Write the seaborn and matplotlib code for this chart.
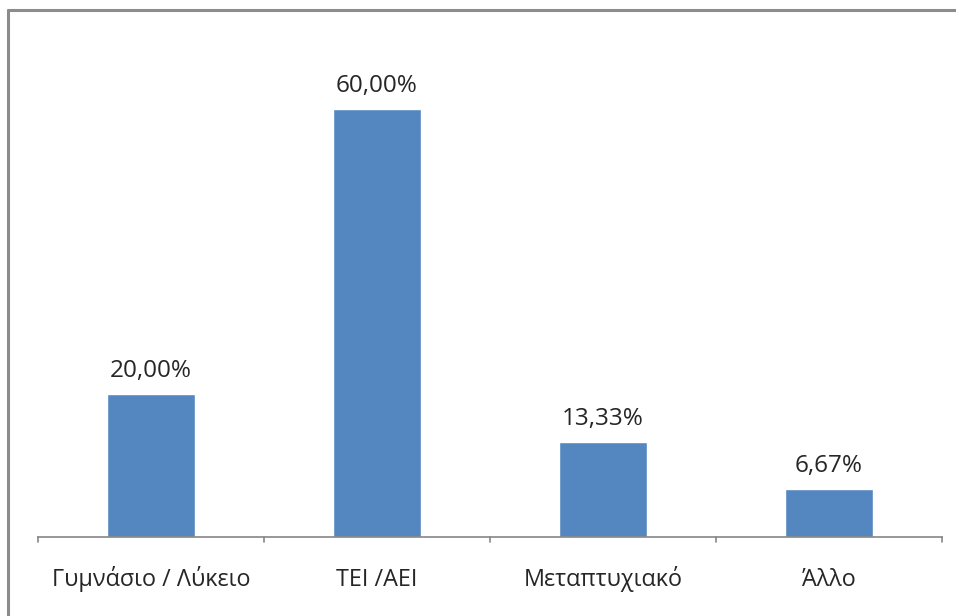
import pandas as pd
import matplotlib.pyplot as plt
import seaborn as sns
from matplotlib.lines import Line2D

# data
categories = ['Γυμνάσιο / Λύκειο', 'ΤΕΙ /ΑΕΙ', 'Μεταπτυχιακό', 'Άλλο']
values = [20.00, 60.00, 13.33, 6.67]
labels = ['20,00%', '60,00%', '13,33%', '6,67%']

df = pd.DataFrame({'cat': categories, 'val': values})

sns.set_style("white")
plt.rcParams['font.family'] = ['Open Sans', 'DejaVu Sans']

fig = plt.figure(figsize=(9.56, 6.16), dpi=100)
ax = fig.add_axes([38 / 956, 79 / 616, 904 / 956, 499 / 616])

sns.barplot(data=df, x='cat', y='val', color='#5487C0', width=0.39,
            saturation=1, ax=ax)

ax.set_ylim(0, 70)
ax.set_xlim(-0.5, len(categories) - 0.5)
ax.set_xlabel('')
ax.set_ylabel('')
ax.set_yticks([])

# value labels above bars
for i, (v, t) in enumerate(zip(values, labels)):
    ax.annotate(t, (i, v), xytext=(0, 8), textcoords='offset points',
                ha='center', va='bottom', fontsize=17.5, color='#262626')

# category labels centred, tick marks at category boundaries
ax.set_xticks(range(len(categories)))
ax.set_xticklabels(categories, fontsize=16.8, color='#262626')
ax.tick_params(axis='x', length=0, pad=35)
for lab in ax.get_xticklabels():
    lab.set_va('baseline')
for b in [i - 0.5 for i in range(len(categories) + 1)]:
    ax.plot([b, b], [0, -0.75], color='#868686', lw=1.2, clip_on=False)

for s in ['top', 'right', 'left']:
    ax.spines[s].set_visible(False)
ax.spines['bottom'].set_color('#868686')
ax.spines['bottom'].set_linewidth(1.2)

# chart area border (only top and left visible in the crop)
fig.add_artist(Line2D([8 / 956, 1], [1 - 10 / 616, 1 - 10 / 616],
                      color='#8c8c8c', lw=2.2, transform=fig.transFigure))
fig.add_artist(Line2D([8 / 956, 8 / 956], [0, 1 - 10 / 616],
                      color='#8c8c8c', lw=2.2, transform=fig.transFigure))

plt.savefig("out.png", dpi=100)
